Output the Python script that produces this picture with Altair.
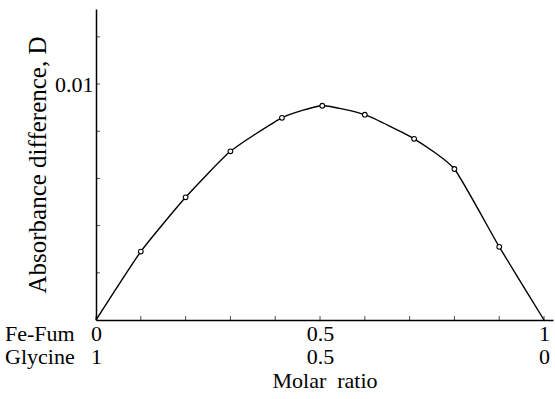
import altair as alt
import pandas as pd

# data
ratio = [0.0, 0.1, 0.2, 0.3, 0.415, 0.505, 0.6, 0.71, 0.8, 0.9, 1.0]
absorb = [0.0, 0.0029, 0.0052, 0.00715, 0.00857, 0.00908, 0.0087, 0.00768, 0.0064, 0.00310, 0.0]
measured = [False, True, True, True, True, True, True, True, True, True, False]

x_ticks = [0.0, 0.1, 0.2, 0.3, 0.4, 0.5, 0.6, 0.7, 0.8, 0.9, 1.0]
y_ticks = [0.002, 0.004, 0.006, 0.008, 0.01, 0.012]
row_names = "Fe-Fum\nGlycine"

FONT = "'Liberation Serif', 'DejaVu Serif', 'Times New Roman', serif"
FS = 22
W, H = 457, 311

df = pd.DataFrame({"ratio": ratio, "D": absorb, "measured": measured})
xt = pd.DataFrame({"v": x_ticks})
yt = pd.DataFrame({"v": y_ticks})
rows = pd.DataFrame({"name": [row_names]})

xscale = alt.Scale(domain=[0, 1.02], nice=False, zero=False)
yscale = alt.Scale(domain=[0, 0.01318], nice=False, zero=False)

x_axis = alt.Axis(
    values=x_ticks,
    ticks=False,
    grid=False,
    domainColor="black",
    domainWidth=1.5,
    labelExpr="datum.value == 0 ? ['0', '1'] : datum.value == 0.5 ? ['0.5', '0.5'] : datum.value == 1 ? ['1', '0'] : ''",
    labelFont=FONT,
    labelFontSize=FS,
    labelColor="black",
    labelLineHeight=23,
    labelPadding=3,
    labelFlush=False,
    labelOverlap=False,
    title="Molar\u00a0\u00a0ratio",
    titleFont=FONT,
    titleFontSize=FS,
    titleFontWeight="normal",
    titleColor="black",
    titlePadding=3,
)

y_axis = alt.Axis(
    values=y_ticks,
    ticks=False,
    grid=False,
    domainColor="black",
    domainWidth=1.5,
    labelExpr="abs(datum.value - 0.01) < 1e-9 ? '0.01' : ''",
    labelFont=FONT,
    labelFontSize=FS,
    labelColor="black",
    labelPadding=3,
    labelOverlap=False,
    title="Absorbance difference, D",
    titleFont=FONT,
    titleFontSize=25,
    titleFontWeight="normal",
    titleColor="black",
    titlePadding=4,
)

curve = alt.Chart(df).mark_line(
    color="black", strokeWidth=1.4, interpolate="cardinal", tension=0.5
).encode(
    x=alt.X("ratio:Q", scale=xscale, axis=x_axis),
    y=alt.Y("D:Q", scale=yscale, axis=y_axis),
)

pts = alt.Chart(df).transform_filter("datum.measured").mark_point(
    shape="circle", size=22, filled=True, fill="white", stroke="black", strokeWidth=1.1, opacity=1
).encode(x=alt.X("ratio:Q", scale=xscale), y=alt.Y("D:Q", scale=yscale))

xtick_marks = alt.Chart(xt).mark_tick(color="black", thickness=1, size=4).encode(
    x=alt.X("v:Q", scale=xscale), y=alt.value(H - 2)
)
ytick_marks = alt.Chart(yt).mark_tick(color="black", thickness=1, size=4).encode(
    y=alt.Y("v:Q", scale=yscale), x=alt.value(2)
)

row_text = alt.Chart(rows).mark_text(
    align="left", baseline="alphabetic", font=FONT, fontSize=FS, color="black",
    lineBreak="\n", lineHeight=23,
).encode(
    text="name:N",
    x=alt.value(-91),
    y=alt.value(H + 21),
)

chart = alt.layer(curve, xtick_marks, ytick_marks, pts, row_text).properties(
    width=W,
    height=H,
    autosize=alt.AutoSizeParams(type="none"),
    padding={"left": 96, "top": 9, "right": 2, "bottom": 79},
    background="white",
).configure_view(stroke=None)

chart.save("out.html", embed_options={"renderer": "svg", "actions": False})
